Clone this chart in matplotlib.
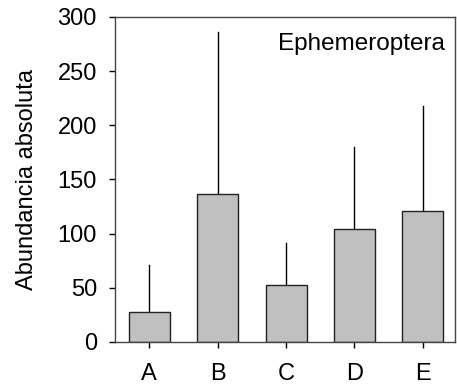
import matplotlib
matplotlib.use("Agg")
import matplotlib.pyplot as plt

# Mean abundance per site with upper error (mean + SD)
sites = ["A", "B", "C", "D", "E"]
means = [28, 137, 53, 104, 121]
upper = [71, 286, 91, 180, 218]
taxon = "Ephemeroptera"

plt.rcParams["font.family"] = ["Liberation Sans", "DejaVu Sans"]

fig = plt.figure(figsize=(4.57, 3.87), dpi=100)
ax = fig.add_axes([115 / 457, 1 - 342 / 387, 340 / 457, 325 / 387])

x = list(range(len(sites)))
ax.bar(x, means, width=0.6, color="#c0c0c0", edgecolor="#222222", linewidth=1.0, zorder=2)
for xi, m, u in zip(x, means, upper):
    ax.plot([xi, xi], [m, u], color="black", linewidth=1.0, zorder=1)

ax.set_xlim(-0.5, 4.47)
ax.set_ylim(0, 300)
ax.set_yticks([0, 50, 100, 150, 200, 250, 300])
ax.set_xticks(x)
ax.set_xticklabels(sites)
ax.tick_params(axis="both", direction="out", length=4, width=1, labelsize=17, colors="black")
ax.tick_params(axis="x", pad=11)
ax.tick_params(axis="y", pad=9)
for s in ax.spines.values():
    s.set_color("#444444")
    s.set_linewidth(1.0)
ax.set_ylabel("Abundancia absoluta", fontsize=17, labelpad=14)
ax.text(0.97, 0.898, taxon, transform=ax.transAxes, ha="right", va="baseline", fontsize=17.5)

fig.savefig("out.png", dpi=100)
